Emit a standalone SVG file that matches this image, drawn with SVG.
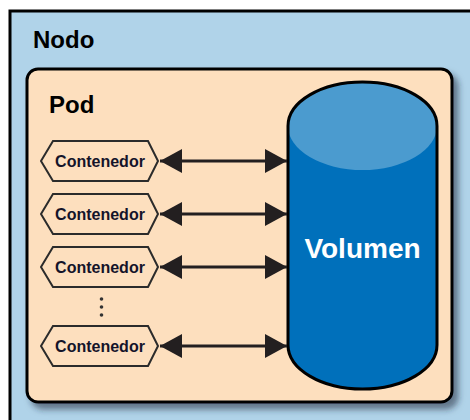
<svg xmlns="http://www.w3.org/2000/svg" width="470" height="420" viewBox="0 0 470 420">
  <defs>
    <filter id="shadow" x="-10%" y="-10%" width="130%" height="130%">
      <feDropShadow dx="5" dy="6" stdDeviation="3" flood-color="#1a2a3a" flood-opacity="0.55"/>
    </filter>
    <marker id="ah" viewBox="0 0 22 24" refX="22" refY="12" markerWidth="22" markerHeight="24" markerUnits="userSpaceOnUse" orient="auto-start-reverse">
      <path d="M0,0 L22,12 L0,24 Z" fill="#231f20"/>
    </marker>
    <style>
      .title { font-family: "Liberation Sans", Arial, sans-serif; font-weight: bold; font-size: 24px; fill: #000; }
      .hex { fill: #fddfbe; stroke: #2b2b2b; stroke-width: 2; }
      .ctext { font-family: "Liberation Sans", Arial, sans-serif; font-weight: bold; font-size: 16px; fill: #14142a; text-anchor: middle; }
      .conn { stroke: #231f20; stroke-width: 3; fill: none; marker-start: url(#ah); marker-end: url(#ah); }
    </style>
  </defs>
  <rect width="470" height="420" fill="#ffffff"/>
  <g id="nodo">
    <rect x="10" y="11" width="480" height="430" fill="#b0d3e9" stroke="#000" stroke-width="3"/>
    <text class="title" x="33" y="48">Nodo</text>
  </g>
  <g id="pod">
    <rect x="27" y="69" width="425" height="333" rx="11" ry="11" fill="#fddfbe" stroke="#000" stroke-width="3" filter="url(#shadow)"/>
    <text class="title" x="49" y="113">Pod</text>
  </g>
  <g id="volumen">
    <path d="M288,126 L288,345 A74.5,44 0 0 0 437,345 L437,126 A74.5,44 0 0 0 288,126 Z" fill="#0070bb"/>
    <ellipse cx="362.5" cy="126" rx="74.5" ry="44" fill="#4b9bcf"/>
    <path d="M288,126 L288,345 A74.5,44 0 0 0 437,345 L437,126 A74.5,44 0 0 0 288,126 Z" fill="none" stroke="#000" stroke-width="3"/>
    <text x="362.5" y="258" font-family="'Liberation Sans', Arial, sans-serif" font-weight="bold" font-size="28" fill="#ffffff" text-anchor="middle">Volumen</text>
  </g>
  <g id="contenedor1">
    <polygon class="hex" points="41,161 53,141 148,141 158,161 148,181 53,181"/>
    <text class="ctext" x="100" y="167">Contenedor</text>
  </g>
  <g id="contenedor2">
    <polygon class="hex" points="41,214 53,194 148,194 158,214 148,234 53,234"/>
    <text class="ctext" x="100" y="220">Contenedor</text>
  </g>
  <g id="contenedor3">
    <polygon class="hex" points="41,267 53,247 148,247 158,267 148,287 53,287"/>
    <text class="ctext" x="100" y="273">Contenedor</text>
  </g>
  <g id="ellipsis">
    <circle cx="101.5" cy="299" r="1.8" fill="#333"/>
    <circle cx="101.5" cy="307" r="1.8" fill="#333"/>
    <circle cx="101.5" cy="315" r="1.8" fill="#333"/>
  </g>
  <g id="contenedor4">
    <polygon class="hex" points="41,346 53,326 148,326 158,346 148,366 53,366"/>
    <text class="ctext" x="100" y="352">Contenedor</text>
  </g>
  <g id="connectors">
    <line class="conn" x1="160" y1="161" x2="287" y2="161"/>
    <line class="conn" x1="160" y1="214" x2="287" y2="214"/>
    <line class="conn" x1="160" y1="267" x2="287" y2="267"/>
    <line class="conn" x1="160" y1="346" x2="287" y2="346"/>
  </g>
</svg>
